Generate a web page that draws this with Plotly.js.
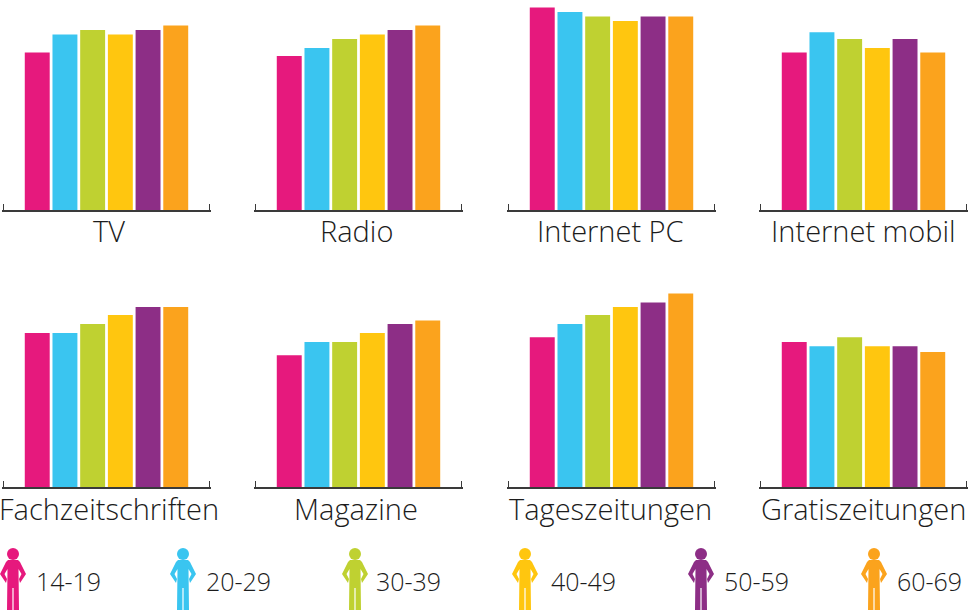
<!DOCTYPE html>
<html><head><meta charset="utf-8">
<script src="https://cdn.plot.ly/plotly-3.0.1.min.js"></script>
<style>html,body{margin:0;padding:0;background:#fff}#c{width:977px;height:610px}</style>
</head><body><div id="c"></div>
<script>
const ageGroups = ["14-19","20-29","30-39","40-49","50-59","60-69"];
const colors = ["#E6197D","#3AC5F0","#BFD131","#FFC60F","#8D2E86","#FBA31D"];
const media = ["TV","Radio","Internet PC","Internet mobil","Fachzeitschriften","Magazine","Tageszeitungen","Gratiszeitungen"];
const tv = [35,39,40,39,40,41];
const radio = [34.2,36,38,39,40,41];
const internetPc = [45,44,43,42,43,43];
const internetMobil = [35,39.5,38,36,38,35];
const fachzeitschriften = [34.2,34.2,36.2,38.2,40,40];
const magazine = [29.3,32.2,32.2,34.2,36.2,37];
const tageszeitungen = [33.3,36.2,38.2,40,41,43];
const gratiszeitungen = [32.2,31.3,33.3,31.3,31.3,30];
const allValues = [tv,radio,internetPc,internetMobil,fachzeitschriften,magazine,tageszeitungen,gratiszeitungen];

const W=977,H=610;
const panelLeft=[2,254,507,759], panelW=209, panelH=205, rowBase=[210,487], pxPerUnit=4.5, slot=27.7;
const labelNudge=[2.5,-2,-1,0,2.5,-2.5,-1.5,0];
const halfRange=panelW/slot/2, tickInset=1.5/slot;
const FONT="Open Sans, sans-serif";
const layout={width:W,height:H,margin:{l:0,r:0,t:0,b:0},paper_bgcolor:"#fff",plot_bgcolor:"#fff",showlegend:false,
  font:{family:FONT,color:"#222"},annotations:[],shapes:[],bargap:0.1};
const traces=[];
media.forEach((m,i)=>{
  const r=Math.floor(i/4),c=i%4,s=i===0?"":String(i+1);
  const x0=panelLeft[c],base=rowBase[r];
  traces.push({type:"bar",x:ageGroups.map((_,k)=>k),y:allValues[i],marker:{color:colors,line:{width:0}},
    xaxis:"x"+s,yaxis:"y"+s,hoverinfo:"y",name:m});
  layout["xaxis"+s]={domain:[x0/W,(x0+panelW)/W],anchor:"y"+s,range:[2.5-halfRange,2.5+halfRange],
    tickvals:[2.5-halfRange+tickInset,2.5+halfRange-tickInset],ticktext:["",""],ticks:"inside",ticklen:6,tickwidth:1.5,tickcolor:"#3a3a3a",
    showline:true,linecolor:"#3a3a3a",linewidth:1.5,showgrid:false,zeroline:false,fixedrange:true};
  layout["yaxis"+s]={domain:[(H-base)/H,(H-base+panelH)/H],anchor:"x"+s,range:[0,panelH/pxPerUnit],
    visible:false,fixedrange:true};
  layout.annotations.push({text:m,xref:"paper",yref:"paper",x:(x0+panelW/2+labelNudge[i])/W,y:(H-base-21)/H,xanchor:"center",yanchor:"middle",
    showarrow:false,font:{size:29,family:FONT,weight:300,color:"#1c1c1c"}});
});

const iconX=[13,183,355,525,701,874], labelX=[34,204,374,549,722,895];
// person outline relative to the icon centre (dx) and its top (dy), in pixels
const body=[[-5,12],[5,12],[7,14],[13,26],[7,35],[6,31],[8.5,26],[5.5,21],[6,62],[0.6,62],[0.6,40],[-0.6,40],[-0.6,62],[-6,62],[-5.5,21],[-8.5,26],[-6,31],[-7,35],[-13,26],[-7,14]];
const px=(x)=>x/W, py=(y)=>(H-y)/H;
ageGroups.forEach((g,i)=>{
  const cx=iconX[i],top=548;
  layout.shapes.push({type:"circle",xref:"paper",yref:"paper",x0:px(cx-6),x1:px(cx+6),y0:py(top),y1:py(top+12),
    fillcolor:colors[i],line:{width:0}});
  const d=body.map((p,k)=>(k?"L":"M")+px(cx+p[0])+","+py(top+p[1])).join(" ")+" Z";
  layout.shapes.push({type:"path",xref:"paper",yref:"paper",path:d,fillcolor:colors[i],line:{width:0}});
  layout.annotations.push({text:g,xref:"paper",yref:"paper",x:px(labelX[i]),y:py(581),xanchor:"left",yanchor:"middle",
    showarrow:false,font:{size:25,family:FONT,weight:300,color:"#1c1c1c"}});
});
Plotly.newPlot("c",traces,layout,{displayModeBar:false,staticPlot:true});
</script></body></html>
